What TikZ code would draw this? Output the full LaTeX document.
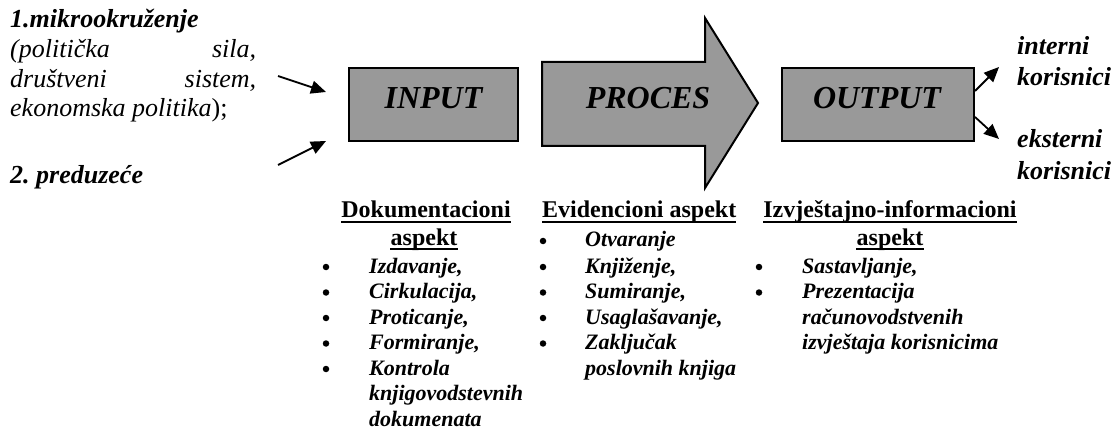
\documentclass[tikz,border=0pt]{standalone}
\usepackage{fontspec}
\setmainfont{Liberation Serif}
\usetikzlibrary{arrows.meta}
\definecolor{boxgray}{RGB}{153,153,153}
\tikzset{
  bigbox/.style={draw=black, line width=2pt, fill=boxgray, inner sep=0, line join=miter},
  boxlabel/.style={font=\fontsize{32}{36}\selectfont\bfseries\itshape, inner sep=0, anchor=base},
  lefttxt/.style={font=\fontsize{26}{30}\selectfont\itshape, inner sep=0, anchor=base west},
  righttxt/.style={font=\fontsize{26}{30}\selectfont\bfseries\itshape, inner sep=0, anchor=base west},
  headtxt/.style={font=\fontsize{24}{28}\selectfont\bfseries, inner sep=0, anchor=base},
  itemtxt/.style={font=\fontsize{22}{25}\selectfont\bfseries\itshape, inner sep=0, anchor=base west},
  bul/.style={circle, fill=black, inner sep=0, minimum size=6.5pt},
  conn/.style={line width=1.8pt, -{Triangle[length=15pt,width=13pt]}},
  uline/.style={line width=2pt}
}
\begin{document}
\begin{tikzpicture}[x=1pt,y=-1pt]
\useasboundingbox (0,0) rectangle (1115,430);

% left text
\node[lefttxt] (l1) at (10,28) {\bfseries 1.mikrookruženje};
\node[lefttxt] (l2) at (10,58) {\makebox[246pt][s]{(politička sila,}};
\node[lefttxt] (l3) at (10,88) {\makebox[246pt][s]{društveni sistem,}};
\node[lefttxt] (l4) at (10,117) {ekonomska politika\upshape);};
\node[lefttxt] (l5) at (10,184) {\bfseries 2.\ preduzeće};

% boxes
\node[bigbox, minimum width=169pt, minimum height=73pt] (input) at (433.5,104.5) {};
\node[boxlabel] (inputl) at (433.5,109) {INPUT};

\draw[bigbox] (542,62) -- (705,62) -- (705,18) -- (758,103) -- (705,188) -- (705,146) -- (542,146) -- cycle;
\node[boxlabel] (procl) at (648,109) {PROCES};

\node[bigbox, minimum width=192pt, minimum height=73pt] (output) at (878,104.5) {};
\node[boxlabel] (outputl) at (877,109) {OUTPUT};

% input arrows
\coordinate (a1s) at (278,76);
\coordinate (a1e) at (326,92);
\coordinate (a2s) at (278,165);
\coordinate (a2e) at (326,141);
\draw[conn] (a1s) -- (a1e);
\draw[conn] (a2s) -- (a2e);

% output arrows
\coordinate (o1s) at (975,91);
\coordinate (o1e) at (999,67);
\coordinate (o2s) at (975,117);
\coordinate (o2e) at (999,139);
\draw[conn] (o1s) -- (o1e);
\draw[conn] (o2s) -- (o2e);

% right text
\node[righttxt] (r1) at (1017,55) {interni};
\node[righttxt] (r2) at (1017,86) {korisnici};
\node[righttxt] (r3) at (1017,148) {eksterni};
\node[righttxt] (r4) at (1017,180) {korisnici};

% column 1
\node[headtxt] (h1a) at (426,218) {Dokumentacioni};
\node[headtxt] (h1b) at (424,245) {aspekt};
\draw[uline] ([yshift=-4pt]h1a.base west) -- ([yshift=-4pt]h1a.base east);
\draw[uline] ([yshift=-4pt]h1b.base west) -- ([yshift=-4pt]h1b.base east);
\node[itemtxt] (c1i1) at (369,273) {Izdavanje,};
\node[itemtxt] (c1i2) at (369,298.5) {Cirkulacija,};
\node[itemtxt] (c1i3) at (369,324) {Proticanje,};
\node[itemtxt] (c1i4) at (369,349.5) {Formiranje,};
\node[itemtxt] (c1i5) at (369,375) {Kontrola};
\node[itemtxt] (c1i6) at (369,400.5) {knjigovodstevnih};
\node[itemtxt] (c1i7) at (369,426) {dokumenata};
\node[bul] (b11) at (326,267) {};
\node[bul] (b12) at (326,292.5) {};
\node[bul] (b13) at (326,318) {};
\node[bul] (b14) at (326,343.5) {};
\node[bul] (b15) at (326,369) {};

% column 2
\node[headtxt, anchor=base west] (h2a) at (542,218) {Evidencioni aspekt};
\draw[uline] ([yshift=-4pt]h2a.base west) -- ([yshift=-4pt]h2a.base east);
\node[itemtxt] (c2i1) at (585,247) {Otvaranje};
\node[itemtxt] (c2i2) at (585,273) {Knjiženje,};
\node[itemtxt] (c2i3) at (585,298.5) {Sumiranje,};
\node[itemtxt] (c2i4) at (585,324) {Usaglašavanje,};
\node[itemtxt] (c2i5) at (585,349.5) {Zaključak};
\node[itemtxt] (c2i6) at (585,375) {poslovnih knjiga};
\node[bul] (b21) at (543,241) {};
\node[bul] (b22) at (543,267) {};
\node[bul] (b23) at (543,292.5) {};
\node[bul] (b24) at (543,318) {};
\node[bul] (b25) at (543,343.5) {};

% column 3
\node[headtxt] (h3a) at (890,218) {Izvještajno-informacioni};
\node[headtxt] (h3b) at (890,245) {aspekt};
\draw[uline] ([yshift=-4pt]h3a.base west) -- ([yshift=-4pt]h3a.base east);
\draw[uline] ([yshift=-4pt]h3b.base west) -- ([yshift=-4pt]h3b.base east);
\node[itemtxt] (c3i1) at (802,273) {Sastavljanje,};
\node[itemtxt] (c3i2) at (802,298.5) {Prezentacija};
\node[itemtxt] (c3i3) at (802,324) {računovodstvenih};
\node[itemtxt] (c3i4) at (802,349.5) {izvještaja korisnicima};
\node[bul] (b31) at (759,267) {};
\node[bul] (b32) at (759,292.5) {};
\end{tikzpicture}
\end{document}
